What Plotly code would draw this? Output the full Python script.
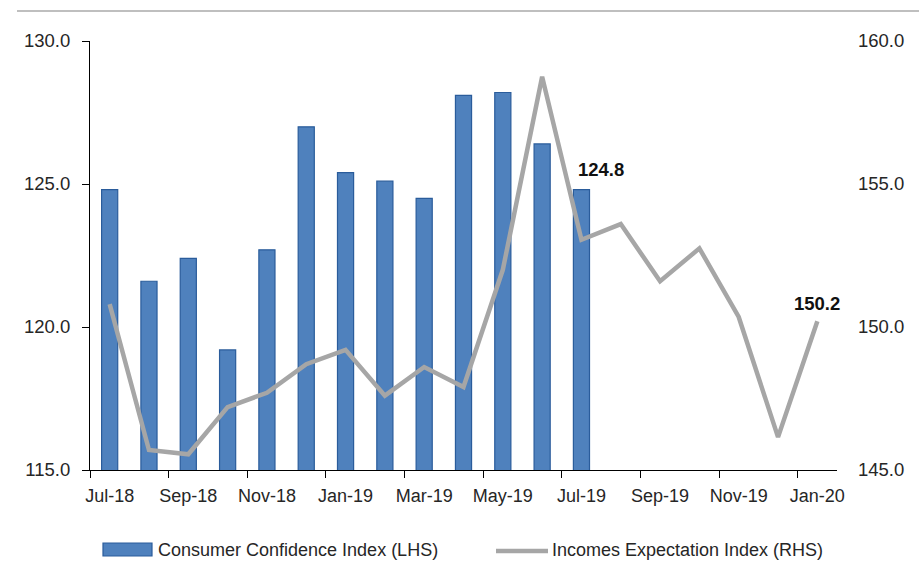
import plotly.graph_objects as go

months = ["Jul-18", "Aug-18", "Sep-18", "Oct-18", "Nov-18", "Dec-18", "Jan-19",
          "Feb-19", "Mar-19", "Apr-19", "May-19", "Jun-19", "Jul-19", "Aug-19",
          "Sep-19", "Oct-19", "Nov-19", "Dec-19", "Jan-20"]
confidence = [124.8, 121.6, 122.4, 119.2, 122.7, 127.0, 125.4, 125.1, 124.5,
              128.1, 128.2, 126.4, 124.8]
incomes = [150.8, 145.7, 145.55, 147.2, 147.7, 148.7, 149.2, 147.6, 148.6, 147.9,
           152.0, 158.75, 153.05, 153.6, 151.6, 152.75, 150.35, 146.15, 150.2]

FONT = "Liberation Sans, Arial, sans-serif"
TXT = "#262626"

L, R, T, B = 90, 837, 41, 470
W, H = R - L, B - T


def px(x):
    return (x - L) / W


def py(y):
    return (B - y) / H


fig = go.Figure()
fig.add_trace(go.Bar(
    x=months[:len(confidence)], y=confidence, name="Consumer Confidence Index (LHS)",
    marker=dict(color="#4F81BD", line=dict(color="#2A5C9B", width=1.2)),
    width=0.41, yaxis="y", showlegend=False,
))
fig.add_trace(go.Scatter(
    x=months, y=incomes, name="Incomes Expectation Index (RHS)", mode="lines",
    line=dict(color="#A6A6A6", width=4.5), yaxis="y2", showlegend=False,
))

fig.update_layout(
    width=922, height=562,
    margin=dict(l=L, r=922 - R, t=T, b=562 - B, autoexpand=False),
    paper_bgcolor="white", plot_bgcolor="white",
    font=dict(family=FONT, size=18, color=TXT),
    xaxis=dict(
        type="category", categoryorder="array", categoryarray=months,
        range=[-0.5, len(months) - 0.5], automargin=False,
        tickmode="linear", tick0=0, dtick=2, tickson="boundaries", tickangle=0,
        ticks="outside", ticklen=7, tickcolor="black", tickwidth=1,
        showline=True, linecolor="black", linewidth=1,
        showgrid=False, zeroline=False, ticklabelstandoff=9,
        tickfont=dict(family=FONT, size=18, color=TXT),
    ),
    yaxis=dict(
        range=[115, 130], dtick=5, tick0=115, tickformat=".1f", automargin=False,
        ticks="outside", ticklen=7, tickcolor="black",
        showline=True, linecolor="black", linewidth=1,
        showgrid=False, zeroline=False, ticklabelstandoff=8,
        tickfont=dict(family=FONT, size=18.5, color=TXT),
    ),
    yaxis2=dict(
        range=[145, 160], dtick=5, tick0=145, tickformat=".1f", automargin=False,
        overlaying="y", side="right", showline=False, ticks="",
        showgrid=False, zeroline=False, ticklabelstandoff=20,
        tickfont=dict(family=FONT, size=18.5, color=TXT),
    ),
)

fig.add_annotation(x=months[len(confidence) - 1], y=confidence[-1], xref="x", yref="y",
                   text="<b>124.8</b>", showarrow=False, xshift=20, yshift=20,
                   font=dict(family=FONT, size=18.5, color="#111111"))
fig.add_annotation(x=months[-1], y=incomes[-1], xref="x", yref="y2",
                   text="<b>150.2</b>", showarrow=False, xshift=0, yshift=18,
                   font=dict(family=FONT, size=18.5, color="#111111"))

# top rule
fig.add_shape(type="line", xref="paper", yref="paper",
              x0=px(17), x1=px(919), y0=py(11), y1=py(11),
              line=dict(color="#BFBFBF", width=2))

# manual legend
fig.add_shape(type="rect", xref="paper", yref="paper",
              x0=px(103), x1=px(152), y0=py(556), y1=py(543),
              fillcolor="#4F81BD", line=dict(color="#2A5C9B", width=1.2))
fig.add_annotation(x=px(156), y=py(549.5), xref="paper", yref="paper",
                   text="Consumer Confidence Index (LHS)", showarrow=False,
                   xanchor="left", yanchor="middle",
                   font=dict(family=FONT, size=18, color=TXT))
fig.add_shape(type="line", xref="paper", yref="paper",
              x0=px(496), x1=px(548), y0=py(551), y1=py(551),
              line=dict(color="#A6A6A6", width=4.5))
fig.add_annotation(x=px(550), y=py(549.5), xref="paper", yref="paper",
                   text="Incomes Expectation Index (RHS)", showarrow=False,
                   xanchor="left", yanchor="middle",
                   font=dict(family=FONT, size=18, color=TXT))

fig.write_html("out.html", config={"displayModeBar": False},
               post_script="document.body.style.margin='0px';document.body.style.padding='0px';")
